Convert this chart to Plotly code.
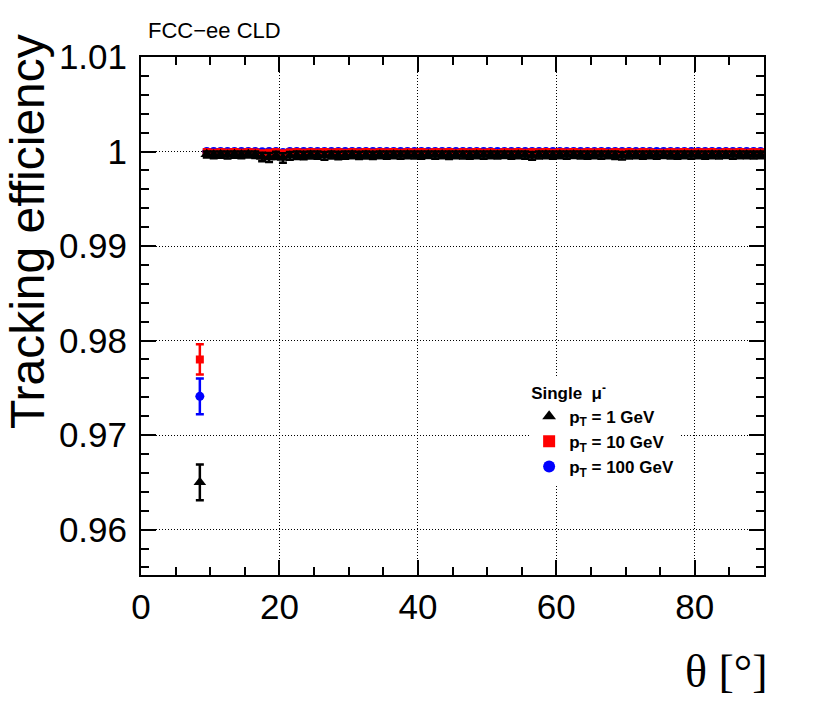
import plotly.graph_objects as go

# ---------------- data ----------------
theta = [8.5, 9.5, 10.5, 11.5, 12.5, 13.5, 14.5, 15.5, 16.5, 17.5, 18.5,
         19.5, 20.5, 21.5, 22.5, 23.5, 24.5, 25.5, 26.5, 27.5, 28.5,
         29.5, 30.5, 31.5, 32.5, 33.5, 34.5, 35.5, 36.5, 37.5, 38.5,
         39.5, 40.5, 41.5, 42.5, 43.5, 44.5, 45.5, 46.5, 47.5, 48.5,
         49.5, 50.5, 51.5, 52.5, 53.5, 54.5, 55.5, 56.5, 57.5, 58.5,
         59.5, 60.5, 61.5, 62.5, 63.5, 64.5, 65.5, 66.5, 67.5, 68.5,
         69.5, 70.5, 71.5, 72.5, 73.5, 74.5, 75.5, 76.5, 77.5, 78.5,
         79.5, 80.5, 81.5, 82.5, 83.5, 84.5, 85.5, 86.5, 87.5, 88.5,
         89.5]

eff_1gev = [0.9650,
            0.99972, 0.99965, 0.99969, 0.99963, 0.99970, 0.99965, 0.99972, 0.99967, 0.99942, 0.99937,
            0.99959, 0.99932, 0.99955, 0.99961, 0.99957, 0.99963, 0.99961, 0.99955, 0.99963, 0.99957,
            0.99961, 0.99965, 0.99959, 0.99963, 0.99960, 0.99966, 0.99961, 0.99965, 0.99962, 0.99966,
            0.99963, 0.99961, 0.99967, 0.99962, 0.99965, 0.99960, 0.99966, 0.99963, 0.99961, 0.99965,
            0.99962, 0.99966, 0.99963, 0.99967, 0.99961, 0.99965, 0.99962, 0.99953, 0.99963, 0.99966,
            0.99961, 0.99965, 0.99962, 0.99967, 0.99963, 0.99961, 0.99966, 0.99962, 0.99965, 0.99960,
            0.99955, 0.99963, 0.99966, 0.99961, 0.99965, 0.99962, 0.99967, 0.99963, 0.99961, 0.99966,
            0.99962, 0.99965, 0.99961, 0.99966, 0.99963, 0.99967, 0.99962, 0.99965, 0.99966, 0.99963,
            0.99966]
err_1gev = [0.0019,
            0.00035, 0.00037, 0.00035, 0.00038, 0.00035, 0.00037, 0.00034, 0.00036, 0.00045, 0.00047,
            0.00039, 0.00050, 0.00041, 0.00039, 0.00040, 0.00037, 0.00038, 0.00041, 0.00037, 0.00040,
            0.00038, 0.00037, 0.00039, 0.00037, 0.00038, 0.00036, 0.00038, 0.00037, 0.00038, 0.00036,
            0.00037, 0.00038, 0.00036, 0.00038, 0.00037, 0.00039, 0.00036, 0.00037, 0.00038, 0.00037,
            0.00038, 0.00036, 0.00037, 0.00036, 0.00038, 0.00037, 0.00038, 0.00041, 0.00037, 0.00036,
            0.00038, 0.00037, 0.00038, 0.00036, 0.00037, 0.00038, 0.00036, 0.00038, 0.00037, 0.00039,
            0.00040, 0.00037, 0.00036, 0.00038, 0.00037, 0.00038, 0.00036, 0.00037, 0.00038, 0.00036,
            0.00038, 0.00037, 0.00038, 0.00036, 0.00037, 0.00036, 0.00038, 0.00037, 0.00036, 0.00037,
            0.00036]

eff_10gev = [0.9780,
             0.99994, 0.99988, 0.99994, 0.99990, 0.99995, 0.99989, 0.99994, 0.99991, 0.99982, 0.99988,
             0.99994, 0.99982, 0.99991, 0.99994, 0.99989, 0.99994, 0.99991, 0.99995, 0.99990, 0.99994,
             0.99988, 0.99994, 0.99991, 0.99995, 0.99989, 0.99994, 0.99992, 0.99995, 0.99988, 0.99994,
             0.99991, 0.99995, 0.99989, 0.99994, 0.99992, 0.99995, 0.99988, 0.99994, 0.99991, 0.99995,
             0.99989, 0.99994, 0.99985, 0.99994, 0.99991, 0.99995, 0.99989, 0.99994, 0.99992, 0.99995,
             0.99988, 0.99994, 0.99991, 0.99995, 0.99989, 0.99994, 0.99992, 0.99995, 0.99988, 0.99994,
             0.99991, 0.99995, 0.99989, 0.99994, 0.99992, 0.99985, 0.99988, 0.99994, 0.99991, 0.99995,
             0.99989, 0.99994, 0.99992, 0.99995, 0.99988, 0.99994, 0.99991, 0.99995, 0.99989, 0.99994,
             0.99992]
err_10gev = [0.0016,
             0.00012, 0.00035, 0.00012, 0.00030, 0.00010, 0.00035, 0.00012, 0.00030, 0.00050, 0.00040,
             0.00012, 0.00050, 0.00030, 0.00012, 0.00035, 0.00012, 0.00030, 0.00010, 0.00033, 0.00012,
             0.00035, 0.00012, 0.00030, 0.00010, 0.00035, 0.00012, 0.00027, 0.00010, 0.00035, 0.00012,
             0.00030, 0.00010, 0.00035, 0.00012, 0.00027, 0.00010, 0.00035, 0.00012, 0.00030, 0.00010,
             0.00035, 0.00012, 0.00040, 0.00012, 0.00030, 0.00010, 0.00035, 0.00012, 0.00027, 0.00010,
             0.00035, 0.00012, 0.00030, 0.00010, 0.00035, 0.00012, 0.00027, 0.00010, 0.00035, 0.00012,
             0.00030, 0.00010, 0.00035, 0.00012, 0.00027, 0.00040, 0.00035, 0.00012, 0.00030, 0.00010,
             0.00035, 0.00012, 0.00027, 0.00010, 0.00035, 0.00012, 0.00030, 0.00010, 0.00035, 0.00012,
             0.00027]

eff_100gev = [0.9741,
              1.00000, 1.00000, 1.00000, 1.00000, 1.00000, 1.00000, 1.00000, 1.00000, 0.99998, 1.00000,
              1.00000, 0.99990, 1.00000, 1.00000, 1.00000, 1.00000, 1.00000, 1.00000, 1.00000, 1.00000,
              1.00000, 1.00000, 1.00000, 1.00000, 1.00000, 1.00000, 1.00000, 1.00000, 1.00000, 1.00000,
              1.00000, 1.00000, 1.00000, 1.00000, 1.00000, 1.00000, 1.00000, 1.00000, 1.00000, 1.00000,
              1.00000, 1.00000, 1.00000, 1.00000, 1.00000, 1.00000, 1.00000, 1.00000, 1.00000, 1.00000,
              1.00000, 1.00000, 1.00000, 1.00000, 1.00000, 1.00000, 1.00000, 1.00000, 1.00000, 1.00000,
              1.00000, 1.00000, 1.00000, 1.00000, 1.00000, 1.00000, 1.00000, 1.00000, 1.00000, 1.00000,
              1.00000, 1.00000, 1.00000, 1.00000, 1.00000, 1.00000, 1.00000, 1.00000, 1.00000, 1.00000,
              1.00000]
err_100gev = [0.0019] + [0.00004] * 80

series = [
    ("<b>p<sub>T</sub> = 100 GeV</b>", eff_100gev, err_100gev, "#0000ff", "circle", 9),
    ("<b>p<sub>T</sub> = 10 GeV</b>", eff_10gev, err_10gev, "#ff0000", "square", 8),
    ("<b>p<sub>T</sub> = 1 GeV</b>", eff_1gev, err_1gev, "#000000", "triangle-up", 11),
]

x_ticks = [0, 20, 40, 60, 80]
y_ticks = [0.96, 0.97, 0.98, 0.99, 1.0, 1.01]
y_ticktext = ["0.96", "0.97", "0.98", "0.99", "1", "1.01"]

fig = go.Figure()
for name, eff, err, col, sym, size in series:
    up = [min(e, max(1.0 - v, 0.0)) for v, e in zip(eff, err)]
    fig.add_trace(go.Scatter(
        x=theta, y=eff, mode="markers", name=name,
        marker=dict(color=col, symbol=sym, size=size, line=dict(width=0)),
        error_y=dict(type="data", symmetric=False, array=up, arrayminus=err,
                     color=col, thickness=2.5, width=4),
    ))

axis_common = dict(
    showline=True, linecolor="black", linewidth=2, mirror="ticks",
    ticks="inside", tickcolor="black", tickwidth=2, ticklen=15,
    showgrid=True, gridcolor="black", gridwidth=1, griddash="1px,2px",
    zeroline=False,
    tickfont=dict(family="Liberation Sans, Arial, sans-serif", size=35, color="black"),
)

fig.update_xaxes(
    range=[0, 90], tickvals=x_ticks, ticklabelstandoff=0,
    minor=dict(ticks="inside", ticklen=8, tickwidth=2, tickcolor="black", dtick=5, showgrid=False),
    **axis_common,
)
fig.update_yaxes(
    range=[0.9552, 1.01], tickvals=y_ticks, ticktext=y_ticktext, ticklabelstandoff=5,
    minor=dict(ticks="inside", ticklen=8, tickwidth=2, tickcolor="black", dtick=0.002, showgrid=False),
    **axis_common,
)

fig.update_layout(
    width=830, height=703,
    margin=dict(l=133, r=74, t=49, b=136),
    paper_bgcolor="white", plot_bgcolor="white",
    showlegend=True,
    legend=dict(
        x=0.623, y=0.383, xanchor="left", yanchor="top",
        bgcolor="white", borderwidth=0,
        traceorder="reversed",
        tracegroupgap=0,
        title=dict(text="<b>Single  μ<sup>-</sup></b>",
                   font=dict(family="Liberation Sans, Arial, sans-serif", size=17, color="black")),
        font=dict(family="Liberation Sans, Arial, sans-serif", size=17, color="black"),
        itemsizing="constant",
    ),
    annotations=[
        dict(text="FCC−ee CLD", xref="paper", yref="paper", x=0.008, y=1.023,
             xanchor="left", yanchor="bottom", showarrow=False,
             font=dict(family="Liberation Sans, Arial, sans-serif", size=22, color="black")),
        dict(text="Tracking efficiency", xref="paper", yref="paper", x=-0.1830, y=0.664,
             xanchor="center", yanchor="middle", textangle=-90, showarrow=False,
             font=dict(family="Liberation Sans, Arial, sans-serif", size=48, color="black")),
        dict(text="θ [°]", xref="paper", yref="paper", x=1.009, y=-0.187,
             xanchor="right", yanchor="middle", showarrow=False,
             font=dict(family="Liberation Serif, Times New Roman, serif", size=46, color="black")),
    ],
)

fig.write_html("out.html")
